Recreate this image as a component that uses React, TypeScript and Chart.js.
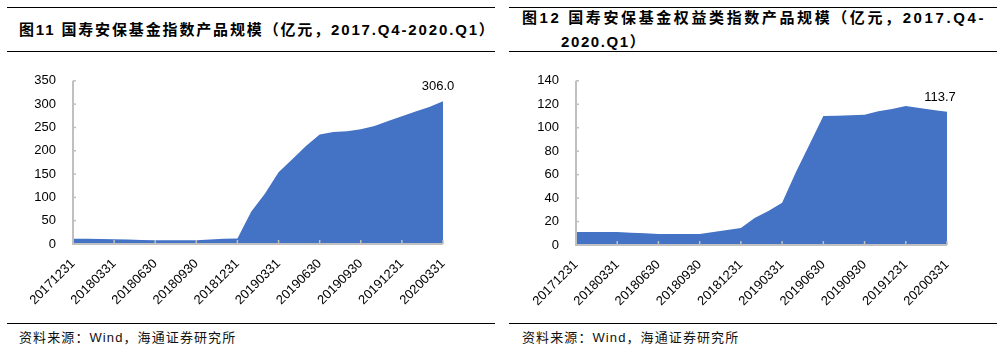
import React, { useEffect, useRef } from "react";
import { Chart, registerables } from "chart.js";

Chart.register(...registerables);

// Month-end dates (category axis); only quarter ends get a label.
const months = [
  "20171231", "20180131", "20180228", "20180331", "20180430", "20180531", "20180630",
  "20180731", "20180831", "20180930", "20181031", "20181130", "20181231",
  "20190131", "20190228", "20190331", "20190430", "20190531", "20190630",
  "20190731", "20190831", "20190930", "20191031", "20191130", "20191231",
  "20200131", "20200229", "20200331",
];

const quarterTicks = [
  "20171231", "20180331", "20180630", "20180930", "20181231",
  "20190331", "20190630", "20190930", "20191231", "20200331",
];

// 国寿安保基金指数产品规模（亿元）
const indexFundSize = [
  11, 11, 10.5, 10, 9.5, 8.5, 8, 8, 8, 8, 9.5, 11, 12,
  69, 108, 154, 182, 210, 235, 240, 242, 246, 253, 264, 274, 284, 294, 306.0,
];

// 国寿安保基金权益类指数产品规模（亿元）
const equityIndexFundSize = [
  11, 11, 11, 11, 10.5, 10, 9.4, 9.4, 9.4, 9.4, 11, 12.8, 14.4,
  23, 29, 36, 62, 86, 110, 110.3, 110.6, 111, 114, 116, 118.5, 116.8, 115, 113.7,
];

const yTicks1 = { max: 350, step: 50 };
const yTicks2 = { max: 140, step: 20 };

const FONT = '"Liberation Sans", "Noto Sans CJK SC", Arial, sans-serif';
const AXIS = "#c0c0c0";
const FILL = "#4472C4";

type PanelCfg = {
  values: number[];
  yMax: number;
  yStep: number;
  yWidth: number;
  xHeight: number;
  padRight: number;
  padTop: number;
  label: string;
  labelDx: number;
  labelDy: number;
};

function AreaChart({ cfg, width, height }: { cfg: PanelCfg; width: number; height: number }) {
  const ref = useRef<HTMLCanvasElement | null>(null);
  useEffect(() => {
    if (!ref.current) return;
    const decor = {
      id: "decor",
      afterDatasetsDraw(chart: any) {
        const ctx = chart.ctx;
        const xs = chart.scales.x;
        const ys = chart.scales.y;
        const area = chart.chartArea;
        ctx.save();
        ctx.strokeStyle = AXIS;
        // inner tick marks on x axis at quarter ends
        ctx.lineWidth = 1.5;
        months.forEach((m, i) => {
          if (quarterTicks.indexOf(m) >= 0 && i > 0) {
            const px = xs.getPixelForValue(i);
            ctx.beginPath();
            ctx.moveTo(px, area.bottom);
            ctx.lineTo(px, area.bottom - 4);
            ctx.stroke();
          }
        });
        // inner tick marks on y axis
        ys.ticks.forEach((t: any) => {
          const py = ys.getPixelForValue(t.value);
          ctx.beginPath();
          ctx.moveTo(area.left, py);
          ctx.lineTo(area.left + 3, py);
          ctx.stroke();
        });
        // axis lines
        ctx.lineWidth = 2;
        ctx.beginPath();
        ctx.moveTo(area.left, area.top);
        ctx.lineTo(area.left, area.bottom);
        ctx.lineTo(area.right, area.bottom);
        ctx.stroke();
        // data label of last point
        const last = cfg.values.length - 1;
        const lx = xs.getPixelForValue(last);
        const ly = ys.getPixelForValue(cfg.values[last]);
        ctx.fillStyle = "#000";
        ctx.font = `13px ${FONT}`;
        ctx.textAlign = "center";
        ctx.textBaseline = "middle";
        ctx.fillText(cfg.label, lx + cfg.labelDx, ly + cfg.labelDy);
        ctx.restore();
      },
    };
    const chart = new Chart(ref.current, {
      type: "line",
      data: {
        labels: months,
        datasets: [
          {
            data: cfg.values,
            fill: "origin",
            backgroundColor: FILL,
            borderWidth: 0,
            borderColor: FILL,
            pointRadius: 0,
            tension: 0,
          },
        ],
      },
      options: {
        responsive: false,
        animation: false,
        devicePixelRatio: 1,
        layout: { padding: { left: 0, right: cfg.padRight, top: cfg.padTop, bottom: 0 } },
        plugins: { legend: { display: false }, tooltip: { enabled: false } },
        scales: {
          x: {
            type: "category",
            offset: false,
            grid: { display: false, drawTicks: false },
            border: { display: false },
            afterFit: (s: any) => {
              s.height = cfg.xHeight;
            },
            ticks: {
              autoSkip: false,
              minRotation: 45,
              maxRotation: 45,
              padding: 12,
              color: "#000",
              font: { family: FONT, size: 13 },
              callback: (_v: any, i: number) =>
                quarterTicks.indexOf(months[i]) >= 0 ? months[i] : null,
            },
          },
          y: {
            min: 0,
            max: cfg.yMax,
            grid: { display: false, drawTicks: false },
            border: { display: false },
            afterFit: (s: any) => {
              s.width = cfg.yWidth;
            },
            ticks: {
              stepSize: cfg.yStep,
              padding: 17,
              color: "#000",
              font: { family: FONT, size: 13 },
            },
          },
        },
      },
      plugins: [decor],
    } as any);
    return () => chart.destroy();
  }, [cfg]);
  return <canvas ref={ref} width={width} height={height} style={{ display: "block" }} />;
}

const cfg1: PanelCfg = {
  values: indexFundSize,
  yMax: yTicks1.max,
  yStep: yTicks1.step,
  yWidth: 73,
  xHeight: 76,
  padRight: 59,
  padTop: 20,
  label: "306.0",
  labelDx: -5,
  labelDy: -15,
};

const cfg2: PanelCfg = {
  values: equityIndexFundSize,
  yMax: yTicks2.max,
  yStep: yTicks2.step,
  yWidth: 74,
  xHeight: 75,
  padRight: 57,
  padTop: 20,
  label: "113.7",
  labelDx: -7,
  labelDy: -14,
};

const rule = (left: number, top: number, width: number): React.CSSProperties => ({
  position: "absolute",
  left,
  top,
  width,
  height: 1,
  background: "#000",
});

const titleStyle: React.CSSProperties = {
  position: "absolute",
  fontFamily: FONT,
  fontWeight: "bold",
  fontSize: 15,
  letterSpacing: 1.85,
  color: "#000",
  whiteSpace: "nowrap",
  lineHeight: "24px",
};

const sourceStyle: React.CSSProperties = {
  position: "absolute",
  fontFamily: FONT,
  fontSize: 13,
  letterSpacing: 1.1,
  color: "#111",
  whiteSpace: "nowrap",
  lineHeight: "16px",
};

export default function App() {
  return (
    <div
      style={{
        position: "absolute",
        left: 0,
        top: 0,
        width: 1004,
        height: 355,
        background: "#fff",
        overflow: "hidden",
      }}
    >
      {/* left panel */}
      <div style={rule(7, 7, 488)} />
      <div style={{ ...titleStyle, left: 19, top: 18 }}>
        图11 国寿安保基金指数产品规模（亿元，2017.Q4-2020.Q1）
      </div>
      <div style={rule(7, 51, 488)} />
      <div style={{ position: "absolute", left: 0, top: 56 }}>
        <AreaChart cfg={cfg1} width={502} height={264} />
      </div>
      <div style={rule(7, 323, 488)} />
      <div style={{ ...sourceStyle, left: 19, top: 330 }}>资料来源：Wind，海通证券研究所</div>

      {/* right panel */}
      <div style={rule(509, 7, 488)} />
      <div style={{ ...titleStyle, left: 522, top: 6, letterSpacing: 2.6 }}>
        图12 国寿安保基金权益类指数产品规模（亿元，2017.Q4-
      </div>
      <div style={{ ...titleStyle, left: 561, top: 30, letterSpacing: 1.6 }}>2020.Q1）</div>
      <div style={rule(509, 51, 488)} />
      <div style={{ position: "absolute", left: 502, top: 56 }}>
        <AreaChart cfg={cfg2} width={502} height={264} />
      </div>
      <div style={rule(509, 323, 488)} />
      <div style={{ ...sourceStyle, left: 522, top: 330 }}>资料来源：Wind，海通证券研究所</div>
    </div>
  );
}
